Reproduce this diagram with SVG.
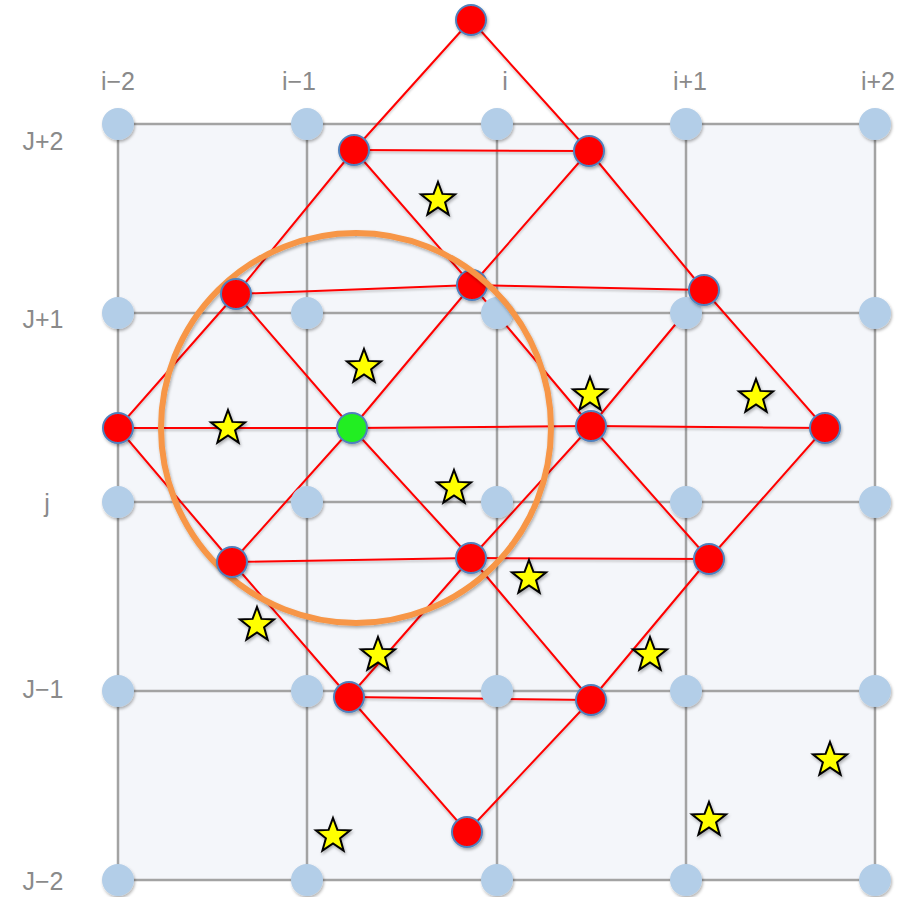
<svg xmlns="http://www.w3.org/2000/svg" xmlns:xlink="http://www.w3.org/1999/xlink" width="902" height="897" viewBox="0 0 902 897">
<defs>
<style>
.lbl{font-family:"Liberation Sans","Noto Sans",sans-serif;font-size:25px;fill:#8a8a8a;text-anchor:middle}
.grid{stroke:#a3a3a3;stroke-width:2.5;fill:none}
.gd{fill:#b3cee8}
.edge{stroke:#ff0000;stroke-width:2;fill:none}
.rn{fill:#ff0000;stroke:#4f81bd;stroke-width:2}
.gn{fill:#22ee22;stroke:#4f81bd;stroke-width:2}
.star{fill:#ffff00;stroke:#000000;stroke-width:2;stroke-linejoin:miter}
</style>
<filter id="sh" x="-30%" y="-30%" width="160%" height="160%">
<feDropShadow dx="1" dy="2" stdDeviation="1.5" flood-color="#000" flood-opacity="0.3"/>
</filter>
<filter id="lsh" x="-5%" y="-5%" width="110%" height="110%">
<feDropShadow dx="0" dy="2" stdDeviation="1" flood-color="#000" flood-opacity="0.2"/>
</filter>
<path id="st" d="M0,-18 L4.4,-6.1 L17.1,-5.6 L7.1,2.3 L10.6,14.6 L0,7.5 L-10.6,14.6 L-7.1,2.3 L-17.1,-5.6 L-4.4,-6.1 Z"/>
</defs>
<rect width="902" height="897" fill="#ffffff"/>
<g id="grid">
<rect x="118" y="124" width="757" height="756" fill="#f4f6fa"/>
<path class="grid" d="M118,124H875M118,313H875M118,502H875M118,691H875M118,880H875M118,124V880M307,124V880M497,124V880M686,124V880M875,124V880"/>
</g>
<g id="labels">
<text class="lbl" x="118" y="90">i−2</text>
<text class="lbl" x="299" y="90">i−1</text>
<text class="lbl" x="505" y="90">i</text>
<text class="lbl" x="690" y="90">i+1</text>
<text class="lbl" x="878" y="90">i+2</text>
<text class="lbl" x="43" y="150">J+2</text>
<text class="lbl" x="43" y="328">J+1</text>
<text class="lbl" x="47" y="512">j</text>
<text class="lbl" x="43" y="698">J−1</text>
<text class="lbl" x="43" y="890">J−2</text>
</g>
<g id="connectors" class="edge" filter="url(#lsh)">
<path d="M471,20L354,150L236,294L118,428L232,562L349,697L467,832L591,700L709,559L825,428L704,290L589,151L471,20"/>
<path d="M354,150L589,151M236,294L472,285L704,290M118,428L352,428L591,426L825,428M232,562L471,558L709,559M349,697L591,700"/>
<path d="M354,150L472,285L591,426L709,559"/>
<path d="M236,294L352,428L471,558L591,700"/>
<path d="M589,151L472,285L352,428L232,562"/>
<path d="M704,290L591,426L471,558L349,697"/>
</g>
<g id="griddots" class="gd" filter="url(#sh)">
<circle cx="118" cy="124" r="16"/><circle cx="307" cy="124" r="16"/><circle cx="497" cy="124" r="16"/><circle cx="686" cy="124" r="16"/><circle cx="875" cy="124" r="16"/>
<circle cx="118" cy="313" r="16"/><circle cx="307" cy="313" r="16"/><circle cx="497" cy="313" r="16"/><circle cx="686" cy="313" r="16"/><circle cx="875" cy="313" r="16"/>
<circle cx="118" cy="502" r="16"/><circle cx="307" cy="502" r="16"/><circle cx="497" cy="502" r="16"/><circle cx="686" cy="502" r="16"/><circle cx="875" cy="502" r="16"/>
<circle cx="118" cy="691" r="16"/><circle cx="307" cy="691" r="16"/><circle cx="497" cy="691" r="16"/><circle cx="686" cy="691" r="16"/><circle cx="875" cy="691" r="16"/>
<circle cx="118" cy="880" r="16"/><circle cx="307" cy="880" r="16"/><circle cx="497" cy="880" r="16"/><circle cx="686" cy="880" r="16"/><circle cx="875" cy="880" r="16"/>
</g>
<g id="n6" filter="url(#sh)"><circle class="rn" cx="472" cy="285" r="15"/></g>
<g id="circle"><circle cx="356" cy="428" r="195" fill="none" stroke="#f79646" stroke-width="6" filter="url(#sh)"/></g>
<g id="n1" filter="url(#sh)"><circle class="rn" cx="471" cy="20" r="15"/></g>
<g id="n2" filter="url(#sh)"><circle class="rn" cx="354" cy="150" r="15"/></g>
<g id="n3" filter="url(#sh)"><circle class="rn" cx="589" cy="151" r="15"/></g>
<g id="n4" filter="url(#sh)"><circle class="rn" cx="236" cy="294" r="15"/></g>
<g id="n5" filter="url(#sh)"><circle class="rn" cx="704" cy="290" r="15"/></g>
<g id="n7" filter="url(#sh)"><circle class="rn" cx="118" cy="428" r="15"/></g>
<g id="n8" filter="url(#sh)"><circle class="gn" cx="352" cy="428" r="15"/></g>
<g id="n9" filter="url(#sh)"><circle class="rn" cx="591" cy="426" r="15"/></g>
<g id="n10" filter="url(#sh)"><circle class="rn" cx="825" cy="428" r="15"/></g>
<g id="n11" filter="url(#sh)"><circle class="rn" cx="232" cy="562" r="15"/></g>
<g id="n12" filter="url(#sh)"><circle class="rn" cx="471" cy="558" r="15"/></g>
<g id="n13" filter="url(#sh)"><circle class="rn" cx="709" cy="559" r="15"/></g>
<g id="n14" filter="url(#sh)"><circle class="rn" cx="349" cy="697" r="15"/></g>
<g id="n15" filter="url(#sh)"><circle class="rn" cx="591" cy="700" r="15"/></g>
<g id="n16" filter="url(#sh)"><circle class="rn" cx="467" cy="832" r="15"/></g>
<g id="stars" class="star" filter="url(#sh)">
<use xlink:href="#st" x="438" y="200"/>
<use xlink:href="#st" x="364" y="367"/>
<use xlink:href="#st" x="228" y="428"/>
<use xlink:href="#st" x="590" y="395"/>
<use xlink:href="#st" x="756" y="397"/>
<use xlink:href="#st" x="454" y="488"/>
<use xlink:href="#st" x="529" y="578"/>
<use xlink:href="#st" x="257" y="625"/>
<use xlink:href="#st" x="378" y="655"/>
<use xlink:href="#st" x="650" y="655"/>
<use xlink:href="#st" x="830" y="760"/>
<use xlink:href="#st" x="709" y="820"/>
<use xlink:href="#st" x="333" y="836"/>
</g>
</svg>
